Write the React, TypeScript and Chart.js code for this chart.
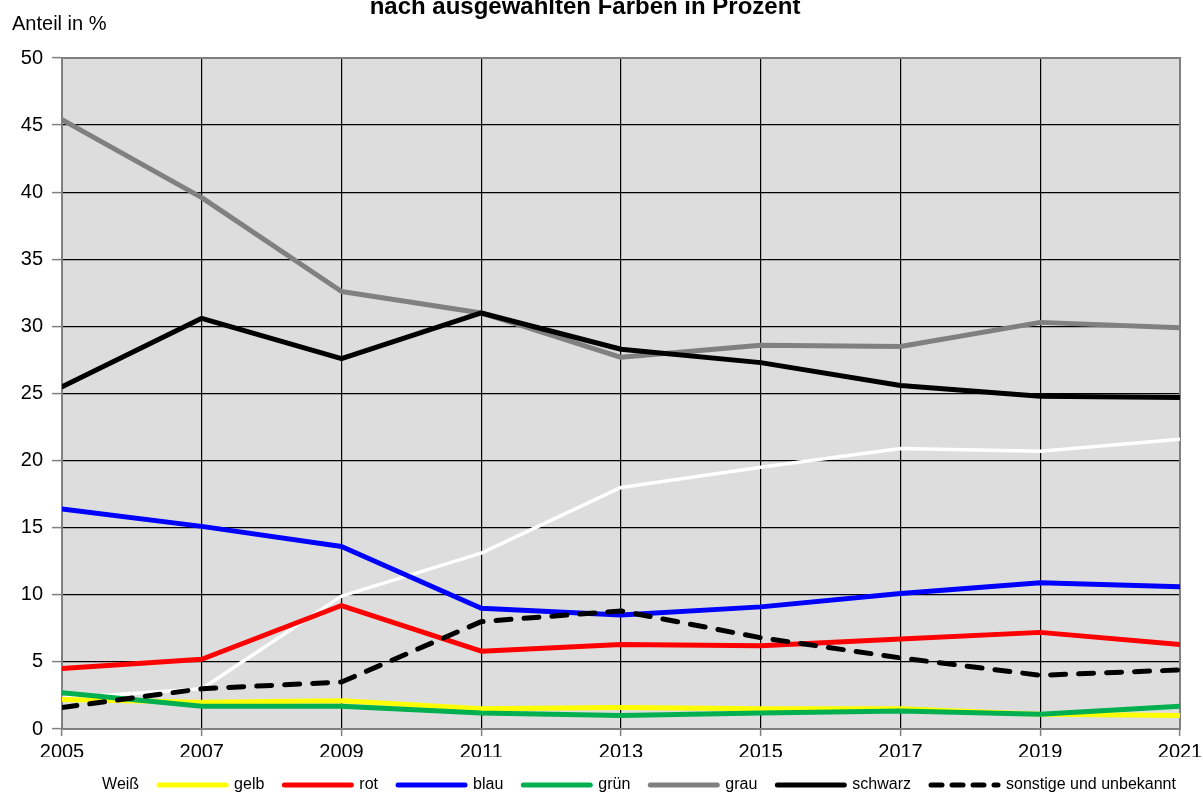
import React, { useEffect, useRef } from "react";
import { Chart, registerables } from "chart.js";

Chart.register(...registerables);

const years = ["2005", "2007", "2009", "2011", "2013", "2015", "2017", "2019", "2021"];
const weiss = [2.3, 3.0, 9.9, 13.1, 18.0, 19.5, 20.9, 20.7, 21.6];
const gelb = [2.2, 2.0, 2.1, 1.5, 1.6, 1.5, 1.5, 1.1, 1.0];
const rot = [4.5, 5.2, 9.2, 5.8, 6.3, 6.2, 6.7, 7.2, 6.3];
const blau = [16.4, 15.1, 13.6, 9.0, 8.5, 9.1, 10.1, 10.9, 10.6];
const gruen = [2.7, 1.7, 1.7, 1.2, 1.0, 1.2, 1.35, 1.1, 1.7];
const grau = [45.4, 39.6, 32.6, 31.0, 27.7, 28.6, 28.5, 30.3, 29.9];
const schwarz = [25.5, 30.6, 27.6, 31.0, 28.3, 27.3, 25.6, 24.8, 24.7];
const sonstige = [1.6, 3.0, 3.5, 8.0, 8.8, 6.8, 5.3, 4.0, 4.4];

const seriesNames = ["Weiß", "gelb", "rot", "blau", "grün", "grau", "schwarz", "sonstige und unbekannt"];
const titleText = "nach ausgewählten Farben in Prozent";
const yAxisTitle = "Anteil in %";

const FONT = '"Liberation Sans", Arial, sans-serif';

export default function App() {
  const ref = useRef<HTMLCanvasElement>(null);

  useEffect(() => {
    document.body.style.margin = "0";
    const canvas = ref.current;
    if (!canvas) return;

    const seriesData = [weiss, gelb, rot, blau, gruen, grau, schwarz, sonstige];
    const colors = ["#FFFFFF", "#FFFF00", "#FF0000", "#0000FF", "#00B050", "#808080", "#000000", "#000000"];
    const widths = [3.5, 5, 5, 5, 5, 5, 5, 5];

    const datasets = seriesData.map((d, i) => ({
      label: seriesNames[i],
      data: d,
      borderColor: colors[i],
      backgroundColor: colors[i],
      borderWidth: widths[i],
      borderDash: i === 7 ? [15, 13] : [],
      borderCapStyle: "round" as const,
      borderJoinStyle: "round" as const,
      pointRadius: 0,
      pointHoverRadius: 0,
      tension: 0,
      fill: false,
      clip: 0,
      order: seriesData.length - i,
    }));

    const decor = {
      id: "decor",
      beforeDraw(chart: any) {
        const { ctx, chartArea: a } = chart;
        ctx.save();
        ctx.fillStyle = "#DDDDDD";
        ctx.fillRect(a.left, a.top, a.right - a.left, a.bottom - a.top);
        ctx.restore();
      },
      beforeDatasetsDraw(chart: any) {
        const { ctx, chartArea: a } = chart;
        ctx.save();
        ctx.strokeStyle = "#808080";
        ctx.lineWidth = 2;
        ctx.strokeRect(a.left, a.top, a.right - a.left, a.bottom - a.top);
        ctx.restore();
      },
      afterDraw(chart: any) {
        const { ctx } = chart;
        ctx.save();
        ctx.fillStyle = "#000000";
        ctx.textBaseline = "alphabetic";
        ctx.textAlign = "center";
        ctx.font = `bold 24px ${FONT}`;
        ctx.fillText(titleText, 585, 14);
        ctx.textAlign = "left";
        ctx.font = `20px ${FONT}`;
        ctx.fillText(yAxisTitle, 12, 30);
        ctx.restore();
      },
    };

    const chart = new Chart(canvas, {
      type: "line",
      data: { labels: years, datasets },
      plugins: [decor],
      options: {
        animation: false,
        responsive: true,
        maintainAspectRatio: false,
        events: [],
        layout: { padding: { top: 58, right: 0, left: 0, bottom: 0 } },
        plugins: {
          title: { display: false },
          tooltip: { enabled: false },
          legend: {
            display: true,
            position: "bottom",
            labels: {
              usePointStyle: true,
              pointStyle: "line",
              pointStyleWidth: 67,
              boxHeight: 16,
              padding: 20,
              color: "#000000",
              font: { family: FONT, size: 16 },
              sort: (a: any, b: any) => a.datasetIndex - b.datasetIndex,
              generateLabels: (ch: any) => {
                const items = (Chart as any).defaults.plugins.legend.labels.generateLabels(ch);
                return items.map((it: any) => ({
                  ...it,
                  lineCap: "round",
                  lineDash: it.datasetIndex === 7 ? [11, 10] : [],
                  pointStyle: "line",
                }));
              },
            },
          },
        },
        scales: {
          x: {
            type: "category",
            offset: false,
            grid: {
              color: "#000000",
              lineWidth: 1.2,
              tickColor: "#808080",
              tickLength: 7,
              tickWidth: 1.5,
              drawOnChartArea: true,
            },
            border: { color: "#808080", width: 2 },
            ticks: {
              color: "#000000",
              font: { family: FONT, size: 20 },
              padding: 4,
              autoSkip: false,
              maxRotation: 0,
              minRotation: 0,
            },
            afterFit: (scale: any) => {
              scale.height = 28;
              scale.paddingLeft = 0;
              scale.paddingRight = 23;
            },
          },
          y: {
            type: "linear",
            min: 0,
            max: 50,
            grid: {
              color: "#000000",
              lineWidth: 1.2,
              tickColor: "#808080",
              tickLength: 10,
              tickWidth: 1.5,
            },
            border: { color: "#808080", width: 2 },
            ticks: {
              stepSize: 5,
              color: "#000000",
              font: { family: FONT, size: 20 },
              padding: 9,
            },
            afterFit: (scale: any) => {
              scale.width = 62;
              scale.paddingTop = 0;
              scale.paddingBottom = 0;
            },
          },
        },
      },
    });

    return () => chart.destroy();
  }, []);

  return (
    <div style={{ width: 1203, height: 794, overflow: "hidden", position: "relative" }}>
      <div style={{ width: 1203, height: 803, position: "absolute", left: 0, top: 0 }}>
        <canvas ref={ref} />
      </div>
    </div>
  );
}
